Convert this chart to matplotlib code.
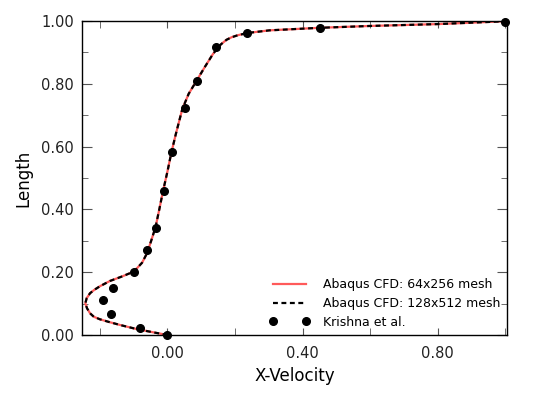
import matplotlib
matplotlib.use("Agg")
import matplotlib.pyplot as plt

# CFD profile, 64x256 mesh (x-velocity, length)
cfd64_x = [0.0, -0.04, -0.092, -0.141, -0.175, -0.200, -0.218, -0.229, -0.238, -0.243,
           -0.239, -0.229, -0.216, -0.200, -0.170, -0.135, -0.099, -0.075,
           -0.060, -0.048, -0.035, -0.024, -0.013, 0.0, 0.012, 0.025, 0.044, 0.063,
           0.086, 0.110, 0.135, 0.158, 0.175, 0.190, 0.210, 0.240, 0.302, 0.448,
           0.60, 0.802, 1.0]
cfd64_y = [0.0, 0.008, 0.019, 0.032, 0.042, 0.050, 0.058, 0.069, 0.085, 0.101,
           0.117, 0.133, 0.144, 0.155, 0.172, 0.186, 0.202, 0.230,
           0.261, 0.300, 0.344, 0.400, 0.458, 0.520, 0.582, 0.640, 0.719, 0.768,
           0.809, 0.852, 0.895, 0.925, 0.940, 0.948, 0.955, 0.962, 0.970, 0.978,
           0.984, 0.990, 0.999]

# CFD profile, 128x512 mesh
cfd128_x = list(cfd64_x)
cfd128_y = list(cfd64_y)

# Krishna et al. reference points
kr_x = [0.0, -0.082, -0.166, -0.191, -0.160, -0.100, -0.059, -0.033, -0.010,
        0.015, 0.052, 0.087, 0.143, 0.235, 0.451, 1.0]
kr_y = [0.0, 0.022, 0.067, 0.110, 0.151, 0.201, 0.269, 0.342, 0.458,
        0.582, 0.723, 0.809, 0.918, 0.963, 0.979, 0.998]

x_major = [0.0, 0.4, 0.8]
x_major_labels = ['0.00', '0.40', '0.80']
x_minor = [-0.2, 0.2, 0.6, 1.0]
y_major = [0.0, 0.2, 0.4, 0.6, 0.8, 1.0]
y_major_labels = ['0.00', '0.20', '0.40', '0.60', '0.80', '1.00']
y_minor = [0.1, 0.3, 0.5, 0.7, 0.9]

plt.rcParams['font.family'] = ['DejaVu Sans']
fig = plt.figure(figsize=(5.45, 3.95), dpi=100)
ax = fig.add_axes([0.151, 0.152, 0.779, 0.795])

ax.plot(cfd64_x, cfd64_y, color='#ff5a5a', lw=1.6, label='Abaqus CFD: 64x256 mesh',
        zorder=2)
ax.plot(cfd128_x, cfd128_y, color='black', lw=1.6, ls=(0, (2.2, 1.6)),
        label='Abaqus CFD: 128x512 mesh', zorder=3)
ax.plot(kr_x, kr_y, ls='none', marker='o', ms=5.5, color='black',
        label='Krishna et al.', zorder=4, clip_on=False)

ax.set_xlim(-0.252, 1.005)
ax.set_ylim(0.0, 1.0)
ax.set_xticks(x_major, x_major_labels)
ax.set_xticks(x_minor, minor=True)
ax.set_yticks(y_major, y_major_labels)
ax.set_yticks(y_minor, minor=True)

ax.tick_params(which='both', direction='in', top=True, right=True,
               color='#555555', labelsize=10.5, labelcolor='#222222')
ax.tick_params(axis='x', which='major', length=5, pad=8)
ax.tick_params(axis='x', which='minor', length=5)
ax.tick_params(axis='y', which='major', length=7, pad=6)
ax.tick_params(axis='y', which='minor', length=4)
for s in ax.spines.values():
    s.set_linewidth(1.0)
    s.set_color('black')

ax.set_xlabel('X-Velocity', fontsize=12, labelpad=4)
ax.set_ylabel('Length', fontsize=12, labelpad=6)

ax.legend(loc='lower right', frameon=False, fontsize=9, numpoints=2,
          handlelength=3.2, handletextpad=1.1, borderaxespad=0.1,
          labelspacing=0.45)

fig.savefig('out.png', dpi=100)
